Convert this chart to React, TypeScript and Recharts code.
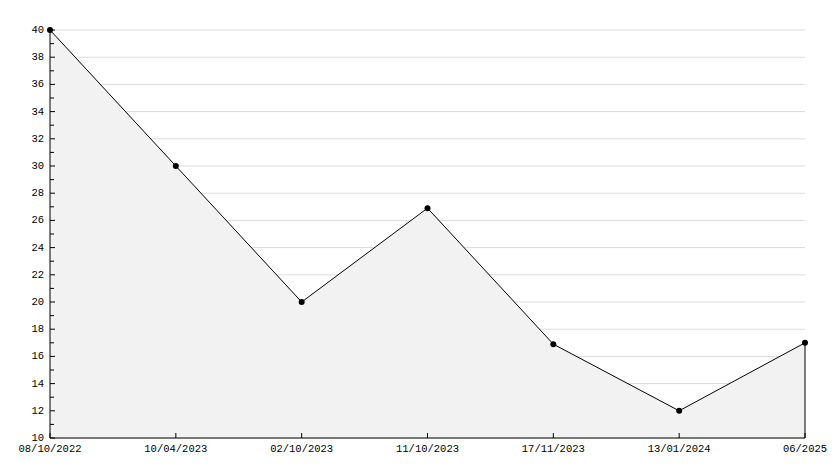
import { AreaChart, Area, XAxis, YAxis, CartesianGrid, ReferenceLine } from "recharts";

const dates = ["08/10/2022", "10/04/2023", "02/10/2023", "11/10/2023", "17/11/2023", "13/01/2024", "06/2025"];
const values = [40, 30, 20, 26.9, 16.9, 12, 17];
const yTicks = Array.from({ length: 31 }, (_, i) => 10 + i);
const gridValues = yTicks.filter((v) => v % 2 === 0);

const data = dates.map((date, i) => ({ date, value: values[i] }));
const FONT = "'Liberation Mono', monospace";

const YTick = ({ x, y, payload }: any) => {
  const major = payload.value % 2 === 0;
  return (
    <g>
      <line x1={x} x2={x + (major ? 5 : 4)} y1={y} y2={y} stroke="#000" />
      {major && (
        <text x={x - 6} y={y} textAnchor="end" dominantBaseline="central" fontSize={10.5} fontFamily={FONT} fill="#000">
          {payload.value}
        </text>
      )}
    </g>
  );
};

const XTick = ({ x, y, payload }: any) => (
  <g>
    <line x1={x} x2={x} y1={y} y2={y - 5} stroke="#000" />
    <text x={x} y={y + 11} textAnchor="middle" dominantBaseline="central" fontSize={10.5} fontFamily={FONT} fill="#000">
      {payload.value}
    </text>
  </g>
);

const Dot = ({ cx, cy }: any) => <circle cx={cx} cy={cy} r={3} fill="#000" stroke="none" />;

export default function App() {
  const last = data[data.length - 1];
  return (
    <div style={{ position: "absolute", left: 0, top: 0, background: "#fff" }}>
      <AreaChart width={834} height={468} data={data} margin={{ top: 30, right: 29, left: 0, bottom: 0 }}>
        <CartesianGrid horizontalValues={gridValues} vertical={false} stroke="#dcdcdc" syncWithTicks={false} />
        <XAxis
          dataKey="date"
          height={30}
          tickSize={0}
          tickMargin={0}
          tick={<XTick />}
          interval={0}
          axisLine={{ stroke: "#000" }}
          padding={{ left: 0, right: 0 }}
        />
        <YAxis
          width={50}
          domain={[10, 40]}
          ticks={yTicks}
          interval={0}
          tickSize={0}
          tickMargin={0}
          tick={<YTick />}
          axisLine={{ stroke: "#000" }}
        />
        <Area
          type="linear"
          dataKey="value"
          stroke="#000"
          strokeWidth={1}
          fill="#f2f2f2"
          fillOpacity={1}
          dot={<Dot />}
          activeDot={false}
          isAnimationActive={false}
        />
        <ReferenceLine
          segment={[
            { x: last.date, y: 10 },
            { x: last.date, y: last.value },
          ]}
          stroke="#000"
        />
      </AreaChart>
    </div>
  );
}
